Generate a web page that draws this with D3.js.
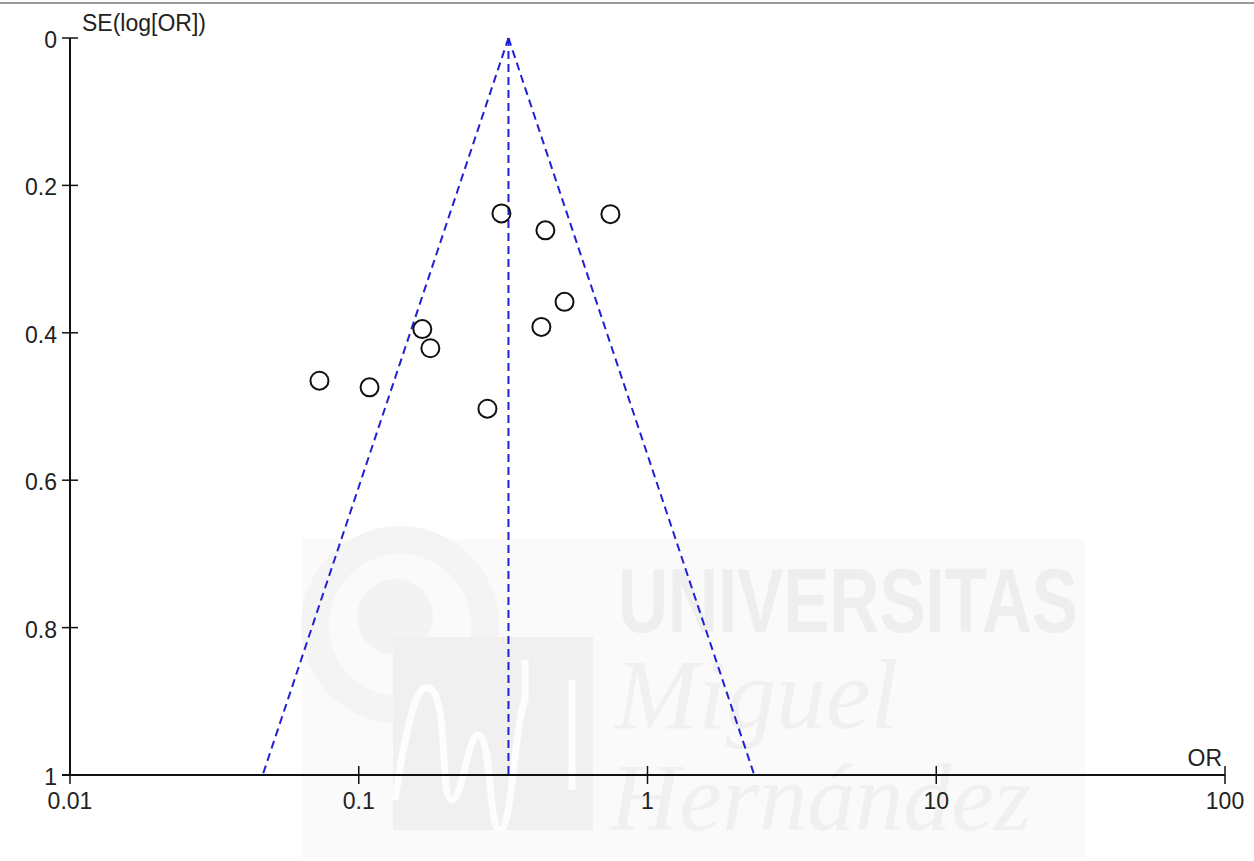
<!DOCTYPE html>
<html>
<head>
<meta charset="utf-8">
<script src="https://cdn.jsdelivr.net/npm/d3@7"></script>
<style>
  body { margin: 0; background: #fff; }
  svg { display: block; font-family: "Liberation Sans", Arial, sans-serif; }
</style>
</head>
<body>
<div id="chart"></div>
<script>
var chartWidth = 1254;
var chartHeight = 861;

// study odds ratios and their standard errors (log scale)
var orValues = [0.312, 0.443, 0.744, 0.516, 0.429, 0.166, 0.177, 0.0731, 0.109, 0.279];
var seValues = [0.238, 0.261, 0.239, 0.358, 0.392, 0.395, 0.421, 0.465, 0.474, 0.503];
var pooledOR = 0.33;
var xTicks = [0.01, 0.1, 1, 10, 100];
var xTickLabels = ['0.01', '0.1', '1', '10', '100'];
var yTicks = [0, 0.2, 0.4, 0.6, 0.8, 1];
var yTickLabels = ['0', '0.2', '0.4', '0.6', '0.8', '1'];

var svg = d3.select('#chart')
    .append('svg')
    .attr('width', chartWidth)
    .attr('height', chartHeight);

// top border line
svg.append('line')
    .attr('x1', 0).attr('x2', chartWidth)
    .attr('y1', 3).attr('y2', 3)
    .attr('stroke', '#7a7a7a')
    .attr('stroke-width', 1.5);

// Watermark (faint background logo)
var wm = svg.append('g').attr('class', 'watermark');
wm.append('rect')
    .attr('x', 302).attr('y', 539)
    .attr('width', 783).attr('height', 318)
    .attr('fill', '#fafafa');
wm.append('circle')
    .attr('cx', 400).attr('cy', 625).attr('r', 85)
    .attr('fill', 'none').attr('stroke', '#f4f4f4').attr('stroke-width', 28);
wm.append('circle')
    .attr('cx', 395).attr('cy', 617).attr('r', 38)
    .attr('fill', '#f3f3f3');
wm.append('rect')
    .attr('x', 393).attr('y', 637).attr('width', 200).attr('height', 193)
    .attr('fill', '#f0f0f0');
wm.append('path')
    .attr('d', 'M395,800 C410,700 420,680 432,690 C448,705 440,800 452,800 '
        + 'C462,800 468,735 478,735 C492,735 488,830 500,830 '
        + 'C512,830 515,720 525,700 L525,660 M572,680 L572,790')
    .attr('fill', 'none').attr('stroke', '#fdfdfd').attr('stroke-width', 7);
wm.append('text')
    .attr('x', 618).attr('y', 632)
    .attr('font-size', 90).attr('font-weight', 'bold')
    .attr('textLength', 460)
    .attr('lengthAdjust', 'spacingAndGlyphs')
    .attr('fill', '#eeeeee')
    .text('UNIVERSITAS');
wm.append('text')
    .attr('x', 615).attr('y', 728)
    .attr('font-size', 100).attr('font-style', 'italic')
    .attr('font-family', '"Liberation Serif", serif')
    .attr('fill', '#f0f0f0')
    .text('Miguel');
wm.append('text')
    .attr('x', 610).attr('y', 830)
    .attr('font-size', 96).attr('font-style', 'italic')
    .attr('font-family', '"Liberation Serif", serif')
    .attr('fill', '#f0f0f0')
    .text('Hernández');

// Scales
var scaleX = d3.scaleLog()
    .domain([0.01, 100])
    .range([70, 1225]);

var scaleY = d3.scaleLinear()
    .domain([0, 1])
    .range([38, 775]);

// Funnel lines (95% limits)
var funnel = svg.append('g')
    .attr('stroke', '#2020d4')
    .attr('stroke-width', 2)
    .attr('stroke-dasharray', '8,5')
    .attr('fill', 'none');

var seMax = 1;
[-1.96, 1.96].forEach(function(z) {
  funnel.append('line')
      .attr('x1', scaleX(pooledOR))
      .attr('y1', scaleY(0))
      .attr('x2', scaleX(Math.exp(Math.log(pooledOR) + z * seMax)))
      .attr('y2', scaleY(seMax));
});
funnel.append('line')
    .attr('x1', scaleX(pooledOR))
    .attr('y1', scaleY(0))
    .attr('x2', scaleX(pooledOR))
    .attr('y2', scaleY(seMax));

// Axes
var axisColor = '#111';
svg.append('line')
    .attr('x1', scaleX(0.01)).attr('x2', scaleX(0.01))
    .attr('y1', scaleY(0)).attr('y2', scaleY(1))
    .attr('stroke', axisColor).attr('stroke-width', 2);
svg.append('line')
    .attr('x1', scaleX(0.01) - 8).attr('x2', scaleX(100))
    .attr('y1', scaleY(1)).attr('y2', scaleY(1))
    .attr('stroke', axisColor).attr('stroke-width', 2);

// Y ticks
svg.selectAll('.ytick')
    .data(yTicks)
    .enter()
    .append('line')
    .attr('class', 'ytick')
    .attr('x1', scaleX(0.01) - 8)
    .attr('x2', scaleX(0.01) + 8)
    .attr('y1', function(d) { return scaleY(d); })
    .attr('y2', function(d) { return scaleY(d); })
    .attr('stroke', axisColor).attr('stroke-width', 1.5);

svg.selectAll('.ylabel')
    .data(yTicks)
    .enter()
    .append('text')
    .attr('class', 'ylabel')
    .attr('x', 57)
    .attr('y', function(d) { return scaleY(d) + 10; })
    .attr('text-anchor', 'end')
    .attr('font-size', 23)
    .attr('fill', '#222')
    .text(function(d, i) { return yTickLabels[i]; });

// X ticks
svg.selectAll('.xtick')
    .data(xTicks)
    .enter()
    .append('line')
    .attr('class', 'xtick')
    .attr('x1', function(d) { return scaleX(d); })
    .attr('x2', function(d) { return scaleX(d); })
    .attr('y1', scaleY(1) - 9)
    .attr('y2', scaleY(1) + 9)
    .attr('stroke', axisColor).attr('stroke-width', 1.5);

svg.selectAll('.xlabel')
    .data(xTicks)
    .enter()
    .append('text')
    .attr('class', 'xlabel')
    .attr('x', function(d) { return scaleX(d); })
    .attr('y', 809)
    .attr('text-anchor', 'middle')
    .attr('font-size', 23)
    .attr('fill', '#222')
    .text(function(d, i) { return xTickLabels[i]; });

// Axis titles
svg.append('text')
    .attr('x', 82).attr('y', 31)
    .attr('font-size', 23)
    .attr('fill', '#222')
    .text('SE(log[OR])');
svg.append('text')
    .attr('x', 1222).attr('y', 766)
    .attr('text-anchor', 'end')
    .attr('font-size', 23)
    .attr('fill', '#222')
    .text('OR');

// Study points
svg.selectAll('circle.study')
    .data(orValues)
    .enter()
    .append('circle')
    .attr('class', 'study')
    .attr('cx', function(d) { return scaleX(d); })
    .attr('cy', function(d, i) { return scaleY(seValues[i]); })
    .attr('r', 9)
    .attr('fill', 'none')
    .attr('stroke', '#111')
    .attr('stroke-width', 2);
</script>
</body>
</html>
